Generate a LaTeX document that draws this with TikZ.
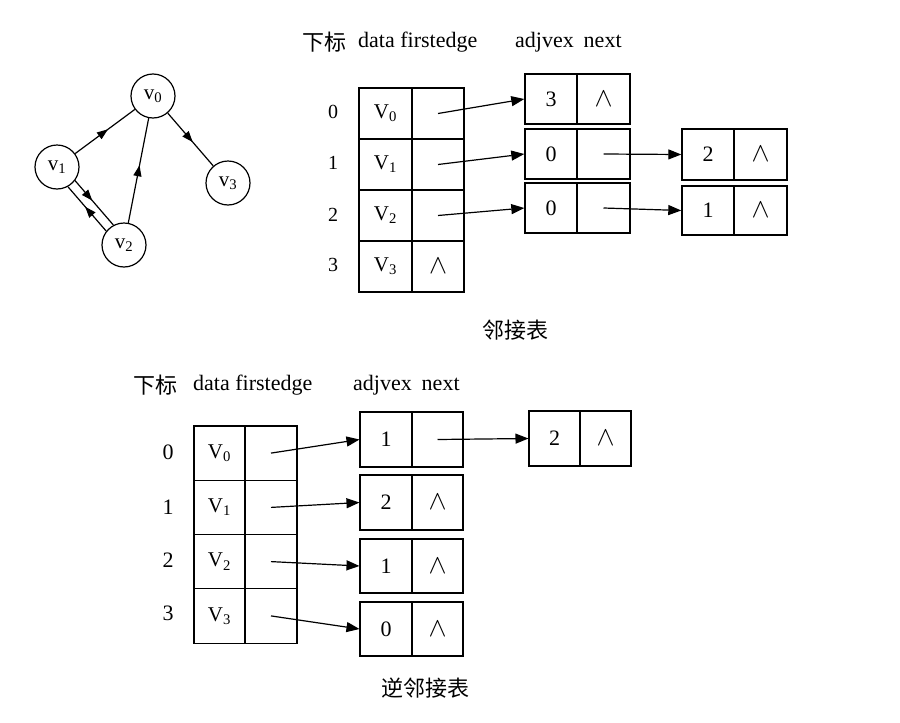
\documentclass[tikz,border=0pt]{standalone}
\usepackage{graphicx}
\usepackage{fontspec}
\setmainfont{Liberation Serif}
\newfontfamily\cjk{Noto Sans CJK SC}
\usetikzlibrary{arrows.meta,decorations.markings}
\newcommand{\nil}{\scalebox{1.3}{$\wedge$}}
\begin{document}
\begin{tikzpicture}[x=1pt,y=-1pt,
  every node/.style={font=\fontsize{22}{24}\selectfont},
  cell/.style={draw, line width=1.4pt, inner sep=0pt, minimum width=52pt, minimum height=51pt},
  bcell/.style={cell, line width=1.05pt},
  vtext/.style={font=\fontsize{21}{23}\selectfont},
  vert/.style={draw, circle, line width=1.2pt, inner sep=0pt, minimum size=44pt, font=\fontsize{21}{23}\selectfont},
  link/.style={line width=1.2pt, -{Triangle[length=13pt,width=10pt]}},
  edge/.style={line width=1.2pt},
  midarrow/.style={postaction={decorate}, decoration={markings, mark=at position #1 with {\arrow{Triangle[length=11pt,width=8pt]}}}},
  midarrow/.default=0.55,
  lbl/.style={inner sep=0pt},
  tidx/.style={lbl, font=\fontsize{20}{22}\selectfont}
]
\useasboundingbox (0,0) rectangle (900,723);

% ---------- graph ----------
\node[vert] (v0) at (153,96)  {v\textsubscript{0}};
\node[vert] (v1) at (57,167)  {v\textsubscript{1}};
\node[vert] (v2) at (124,245) {v\textsubscript{2}};
\node[vert] (v3) at (228,183) {v\textsubscript{3}};
\draw[edge,midarrow] (v1) -- (v0);
\draw[edge,midarrow] (v2) -- (v0);
\draw[edge,midarrow] (v0) -- (v3);
\draw[edge,midarrow=0.45] (v1.-37) -- (v2.118.7);
\draw[edge,midarrow=0.55] (v2.142.7) -- (v1.-61);

% ---------- adjacency list ----------
\node[lbl,anchor=west] (th1) at (302,42) {\cjk 下标};
\node[lbl,anchor=west] (th2) at (358,42) {data firstedge};
\node[lbl,anchor=west] (th3) at (515,42) {adjvex\hspace{0.45em}next};

\node[tidx] (ti0) at (333,112) {0};
\node[tidx] (ti1) at (333,163) {1};
\node[tidx] (ti2) at (333,215) {2};
\node[tidx] (ti3) at (333,265) {3};

\node[cell,vtext,minimum width=53pt] (td0) at (385.5,113.5) {V\textsubscript{0}};
\node[cell,vtext,minimum width=53pt] (td1) at (385.5,164.5) {V\textsubscript{1}};
\node[cell,vtext,minimum width=53pt] (td2) at (385.5,215.5) {V\textsubscript{2}};
\node[cell,vtext,minimum width=53pt] (td3) at (385.5,266.5) {V\textsubscript{3}};
\node[cell] (tf0) at (438,113.5) {};
\node[cell] (tf1) at (438,164.5) {};
\node[cell] (tf2) at (438,215.5) {};
\node[cell] (tf3) at (438,266.5) {\nil};

\node[cell,minimum height=50pt] (ta0d) at (551,99) {3};
\node[cell,minimum height=50pt,minimum width=53pt] (ta0n) at (603.5,99) {\nil};
\node[cell,minimum height=50pt] (ta1d) at (551,154) {0};
\node[cell,minimum height=50pt,minimum width=53pt] (ta1n) at (603.5,154) {};
\node[cell,minimum height=50pt] (ta2d) at (551,208) {0};
\node[cell,minimum height=50pt,minimum width=53pt] (ta2n) at (603.5,208) {};

\node[cell] (tb1d) at (708,154.5) {2};
\node[cell,minimum width=53pt] (tb1n) at (760.5,154.5) {\nil};
\node[cell,minimum height=49pt] (tb2d) at (708,210.5) {1};
\node[cell,minimum height=49pt,minimum width=53pt] (tb2n) at (760.5,210.5) {\nil};

\draw[link] (tf0.center) -- (ta0d.west);
\draw[link] (tf1.center) -- (ta1d.west);
\draw[link] (tf2.center) -- (ta2d.west);
\draw[link] (ta1n.center) -- (tb1d.west);
\draw[link] (ta2n.center) -- (tb2d.west);

\node[lbl] (tcap) at (515,330) {\cjk 邻接表};

% ---------- inverse adjacency list ----------
\node[lbl,anchor=west] (bh1) at (133,385) {\cjk 下标};
\node[lbl,anchor=west] (bh2) at (193,385) {data firstedge};
\node[lbl,anchor=west] (bh3) at (353,385) {adjvex\hspace{0.45em}next};

\node[lbl] (bi0) at (168,452) {0};
\node[lbl] (bi1) at (168,507) {1};
\node[lbl] (bi2) at (168,560) {2};
\node[lbl] (bi3) at (168,613) {3};

\node[bcell,vtext,minimum width=51pt,minimum height=54.25pt] (bd0) at (219.5,453.1) {V\textsubscript{0}};
\node[bcell,vtext,minimum width=51pt,minimum height=54.25pt] (bd1) at (219.5,507.4) {V\textsubscript{1}};
\node[bcell,vtext,minimum width=51pt,minimum height=54.25pt] (bd2) at (219.5,561.6) {V\textsubscript{2}};
\node[bcell,vtext,minimum width=51pt,minimum height=54.25pt] (bd3) at (219.5,615.9) {V\textsubscript{3}};
\node[bcell,minimum height=54.25pt] (bf0) at (271,453.1) {};
\node[bcell,minimum height=54.25pt] (bf1) at (271,507.4) {};
\node[bcell,minimum height=54.25pt] (bf2) at (271,561.6) {};
\node[bcell,minimum height=54.25pt] (bf3) at (271,615.9) {};

\node[bcell,minimum height=55pt] (ba0d) at (386,439.5) {1};
\node[bcell,minimum height=55pt,minimum width=51pt] (ba0n) at (437.5,439.5) {};
\node[bcell,minimum height=55pt] (ba1d) at (386,502.5) {2};
\node[bcell,minimum height=55pt,minimum width=51pt] (ba1n) at (437.5,502.5) {\nil};
\node[bcell,minimum height=54pt] (ba2d) at (386,566) {1};
\node[bcell,minimum height=54pt,minimum width=51pt] (ba2n) at (437.5,566) {\nil};
\node[bcell,minimum height=54pt] (ba3d) at (386,629) {0};
\node[bcell,minimum height=54pt,minimum width=51pt] (ba3n) at (437.5,629) {\nil};

\node[bcell,minimum height=55pt,minimum width=51pt] (bb0d) at (554.5,438.5) {2};
\node[bcell,minimum height=55pt,minimum width=51pt] (bb0n) at (605.5,438.5) {\nil};

\draw[link] (bf0.center) -- (ba0d.west);
\draw[link] (bf1.center) -- (ba1d.west);
\draw[link] (bf2.center) -- (ba2d.west);
\draw[link] (bf3.center) -- (ba3d.west);
\draw[link] (ba0n.center) -- (bb0d.west);

\node[lbl] (bcap) at (425,688) {\cjk 逆邻接表};
\end{tikzpicture}
\end{document}
